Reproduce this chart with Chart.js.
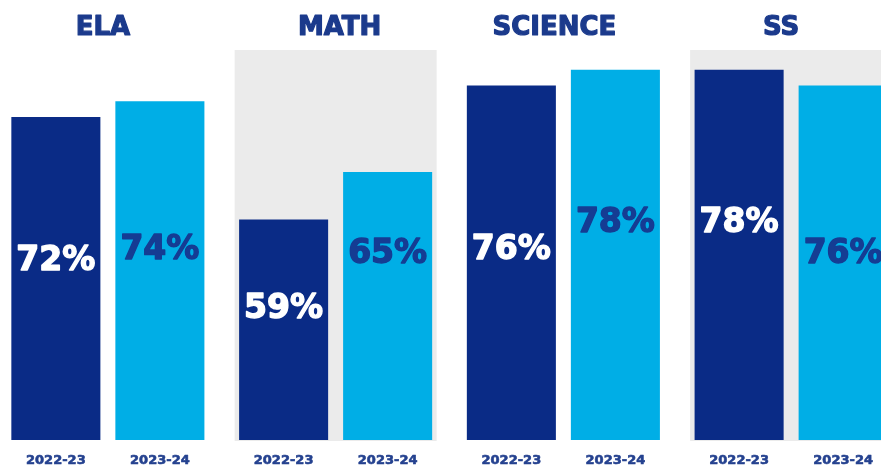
<!DOCTYPE html>
<html>
<head>
<meta charset="utf-8">
<script src="https://cdn.jsdelivr.net/npm/chart.js@4/dist/chart.umd.min.js"></script>
<style>
    html, body { margin: 0; padding: 0; background: #ffffff; overflow: hidden; }
    #contenedor { position: absolute; left: -6px; top: 0; width: 911px; height: 465px; }
</style>
</head>
<body>
<div id="contenedor"><canvas id="resultados" width="911" height="465"></canvas></div>
<script>
const materias = ['ELA', 'MATH', 'SCIENCE', 'SS'];
const anios = ['2022-23', '2023-24'];
const valores2223 = [72, 59, 76, 78];
const valores2324 = [74, 65, 78, 76];

const azulOscuro = '#0a2b86';
const azulClaro = '#00aee6';
const azulTexto = '#1b3a8c';
const grisPanel = '#ebebeb';

// texto relleno + trazo fino para darle mas peso
function textoGrueso(ctx, txt, x, y, color, grosor) {
    ctx.fillStyle = color;
    ctx.strokeStyle = color;
    ctx.lineWidth = grosor;
    ctx.lineJoin = 'round';
    ctx.strokeText(txt, x, y);
    ctx.fillText(txt, x, y);
}

// dibuja paneles grises, titulos, porcentajes y años
const rotulos = {
    id: 'rotulos',
    beforeDatasetsDraw(chart) {
        const { ctx, chartArea, scales: { x } } = chart;
        ctx.save();
        ctx.fillStyle = grisPanel;
        materias.forEach((m, i) => {
            if (i % 2 === 1) {
                const cx = x.getPixelForValue(i);
                ctx.fillRect(cx - 101, chartArea.top, 202, chartArea.bottom - chartArea.top + 1);
            }
        });
        ctx.restore();
    },
    afterDatasetsDraw(chart, args, opts) {
        const { ctx, scales: { x, y } } = chart;
        ctx.save();
        ctx.textAlign = 'center';
        ctx.textBaseline = 'middle';

        // titulos de materia
        ctx.font = 'bold 26px "DejaVu Sans"';
        materias.forEach((m, i) => {
            textoGrueso(ctx, m, x.getPixelForValue(i) + opts.corrTitulo[i], 28, azulTexto, 1.2);
        });

        chart.data.datasets.forEach((ds, d) => {
            const meta = chart.getDatasetMeta(d);
            meta.data.forEach((barra, i) => {
                // porcentaje dentro de la barra
                ctx.font = 'bold 33px "DejaVu Sans"';
                textoGrueso(ctx, ds.data[i] + '%', barra.x, y.getPixelForValue(opts.altura[d][i]),
                    d === 0 ? '#ffffff' : '#153c93', 1.4);
                // año debajo de la barra
                ctx.font = 'bold 13px "DejaVu Sans"';
                textoGrueso(ctx, anios[d], barra.x, 461, '#24418f', 0.6);
            });
        });
        ctx.restore();
    }
};

new Chart(document.getElementById('resultados').getContext('2d'), {
    type: 'bar',
    data: {
        labels: materias,
        datasets: [
            {
                label: anios[0],
                data: valores2223,
                backgroundColor: azulOscuro,
                barPercentage: 0.856,
                categoryPercentage: 0.9135
            },
            {
                label: anios[1],
                data: valores2324,
                backgroundColor: azulClaro,
                barPercentage: 0.856,
                categoryPercentage: 0.9135
            }
        ]
    },
    options: {
        responsive: false,
        animation: false,
        layout: { padding: { top: 50, bottom: 25, left: 0, right: 0 } },
        scales: {
            x: { display: false },
            y: { display: false, min: 31, max: 80.5 }
        },
        plugins: {
            legend: { display: false },
            tooltip: { enabled: false },
            rotulos: {
                corrTitulo: [-5, 4, -9, -10],
                altura: [[53.7, 47.6, 55.1, 58.5], [55.0, 54.5, 58.5, 54.5]]
            }
        }
    },
    plugins: [rotulos]
});
</script>
</body>
</html>
